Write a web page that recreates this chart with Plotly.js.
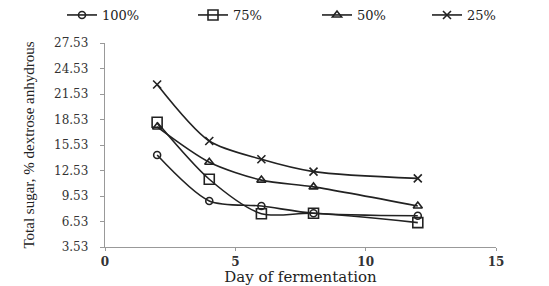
<!DOCTYPE html>
<html><head><meta charset="utf-8">
<script src="https://cdn.plot.ly/plotly-3.0.1.min.js"></script>
<style>html,body{margin:0;padding:0;background:#fff}#chart{width:549px;height:286px}</style>
</head><body><div id="chart"></div>
<script>
const days = [2, 4, 6, 8, 12];
const s100 = [14.35, 8.95, 8.35, 7.5, 7.2];
const s75 = [18.2, 11.5, 7.45, 7.5, 6.4];
const s50 = [17.65, 13.5, 11.4, 10.6, 8.35];
const s25 = [22.65, 16.0, 13.85, 12.4, 11.6];
const seriesNames = ['100%', '75%', '50%', '25%'];
const yTicks = [3.53, 6.53, 9.53, 12.53, 15.53, 18.53, 21.53, 24.53, 27.53];
const xTicks = [0, 5, 10, 15];

const FONT = 'DejaVu Serif, serif';
const symbols = ['circle-open', 'square-open', 'triangle-up-open', 'x-thin-open'];
const sizes = [7, 10, 8, 8];
const legendIds = ['legend', 'legend2', 'legend3', 'legend4'];
const legendX = [62, 193, 317, 427];
const data = [s100, s75, s50, s25].map((ys, i) => ({
  x: days, y: ys, name: seriesNames[i], type: 'scatter', mode: 'lines+markers',
  legend: legendIds[i],
  line: {color: '#222', width: 1.6, shape: 'spline', smoothing: 0.8},
  marker: {symbol: symbols[i], size: sizes[i], color: '#222', line: {color: '#222', width: 1.6}}
}));

const layout = {
  width: 549, height: 286,
  margin: {l: 105, r: 53, t: 43, b: 39},
  paper_bgcolor: '#fff', plot_bgcolor: '#fff',
  font: {family: FONT, color: '#222', size: 12},
  showlegend: true,
  xaxis: {range: [0, 15], tickvals: xTicks, ticktext: xTicks.map(String), showgrid: false, zeroline: false,
    showline: true, linecolor: '#999', linewidth: 1.2, ticks: 'outside', ticklen: 3, tickcolor: '#999',
    tickfont: {size: 12, family: FONT, weight: 'bold', color: '#333'}, automargin: false,
    title: {text: 'Day of fermentation', font: {size: 15, family: FONT, color: '#222'}, standoff: 3}},
  yaxis: {range: [3.53, 27.53], tickvals: yTicks, ticktext: yTicks.map(v => v.toFixed(2)), showgrid: false, zeroline: false,
    showline: true, linecolor: '#999', linewidth: 1.2, ticks: 'outside', ticklen: 4, tickcolor: '#999',
    ticklabelstandoff: 9, automargin: false,
    tickfont: {size: 12, family: FONT, color: '#333'},
    title: {text: 'Total sugar, % dextrose anhydrous', font: {size: 15, family: 'Liberation Serif, serif', color: '#222'}, standoff: 15}}
};
legendIds.forEach((id, i) => {
  layout[id] = {xref: 'container', yref: 'container', x: legendX[i] / 549, y: 1 - 15 / 286,
    xanchor: 'left', yanchor: 'middle', orientation: 'h', itemwidth: 30,
    font: {size: 13, family: FONT, color: '#222'}, bgcolor: 'rgba(0,0,0,0)'};
});
Plotly.newPlot('chart', data, layout, {displayModeBar: false, staticPlot: true});
</script></body></html>
